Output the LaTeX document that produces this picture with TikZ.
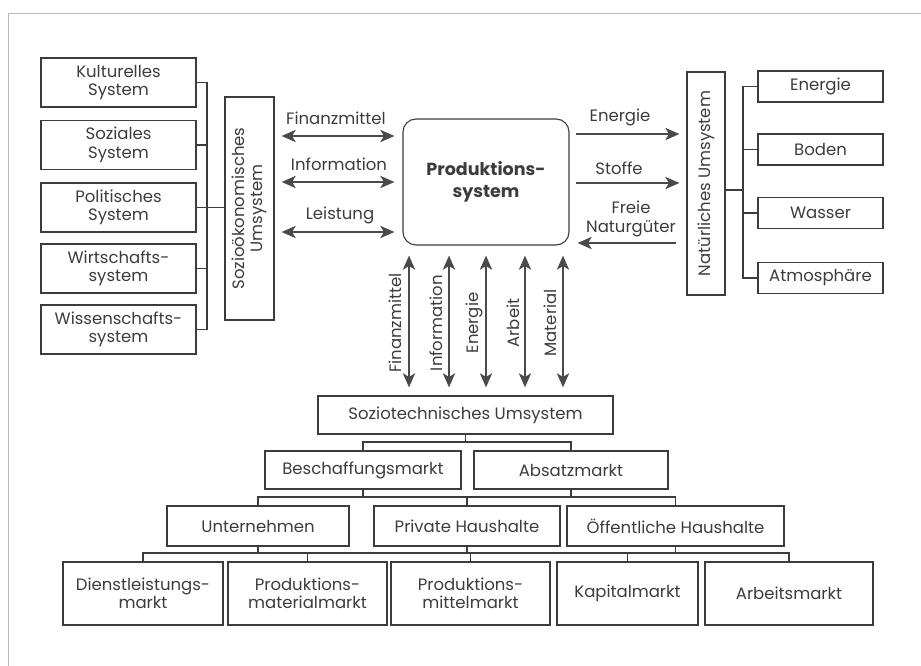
\documentclass[tikz,border=0pt]{standalone}
\usepackage{fontspec}
\setmainfont{Poppins}
\usetikzlibrary{arrows.meta}
\definecolor{ink}{HTML}{3C3C3C}
\definecolor{arrc}{HTML}{4A4A4A}
\tikzset{
  box/.style={draw=ink, line width=1.1pt, inner sep=1pt, align=center, text=ink,
    font=\fontsize{16.5}{18.5}\selectfont},
  lbl/.style={inner sep=0pt, align=center, text=ink, font=\fontsize{16.5}{18.5}\selectfont},
  conn/.style={draw=ink, line width=1.1pt},
  flow/.style={draw=arrc, line width=2.8pt, {Stealth[length=14pt,width=12pt,inset=3.5pt]}-{Stealth[length=14pt,width=12pt,inset=3.5pt]}},
  flowr/.style={draw=arrc, line width=2.8pt, -{Stealth[length=14pt,width=12pt,inset=3.5pt]}},
}
\begin{document}
\begin{tikzpicture}[x=1pt,y=-1pt]
\useasboundingbox (0,0) rectangle (921,666);
% outer frame
\draw[gray!55, line width=0.7pt] (8,666) -- (8,13) -- (921,13);

% left column
\node[box, minimum width=155pt, minimum height=49pt] (kult) at (118.5,82.5) {Kulturelles\\System};
\node[box, minimum width=155pt, minimum height=49pt] (soz) at (118.5,145) {Soziales\\System};
\node[box, minimum width=155pt, minimum height=49pt] (pol) at (118.5,207.5) {Politisches\\System};
\node[box, minimum width=155pt, minimum height=49pt] (wirt) at (118.5,268.5) {Wirtschafts-\\system};
\node[box, minimum width=155pt, minimum height=49pt] (wiss) at (118.5,329.5) {Wissenschafts-\\system};
\node[box, rotate=90, minimum width=223pt, minimum height=49pt] (sozio) at (249.5,208.5) {Sozioökonomisches\\Umsystem};

\coordinate (lb) at (207,207.5);
\draw[conn] (kult.east) -| (lb);
\draw[conn] (soz.east) -| (lb);
\draw[conn] (pol.east) -| (lb);
\draw[conn] (wirt.east) -| (lb);
\draw[conn] (wiss.east) -| (lb);
\draw[conn] (lb) -- (sozio.north |- lb);

% production system
\node[box, draw=ink, rounded corners=13pt, minimum width=166pt, minimum height=126pt,
  font=\fontsize{17.5}{22}\selectfont\bfseries] (prod) at (486,182) {Produktions-\\system};

% left flows
\coordinate (y1) at (0,136);
\coordinate (y2) at (0,182);
\coordinate (y3) at (0,232);
\draw[flow, shorten <=7pt, shorten >=8pt] (sozio.south |- y1) -- (prod.west |- y1);
\draw[flow, shorten <=7pt, shorten >=8pt] (sozio.south |- y2) -- (prod.west |- y2);
\draw[flow, shorten <=7pt, shorten >=8pt] (sozio.south |- y3) -- (prod.west |- y3);
\node[lbl] (lfin) at (336,118) {Finanzmittel};
\node[lbl] (linf) at (339,164.5) {Information};
\node[lbl] (lleis) at (340,215) {Leistung};

% natural system
\node[box, rotate=90, minimum width=223pt, minimum height=38pt] (nat) at (706,183.5) {Natürliches Umsystem};
\node[box, minimum width=125pt, minimum height=31pt] (en) at (820.5,86.5) {Energie};
\node[box, minimum width=125pt, minimum height=31pt] (bod) at (820.5,149.5) {Boden};
\node[box, minimum width=125pt, minimum height=31pt] (was) at (820.5,213) {Wasser};
\node[box, minimum width=125pt, minimum height=31pt] (atm) at (820.5,278) {Atmosphäre};
\coordinate (rb) at (743,190);
\draw[conn] (en.west) -| (rb);
\draw[conn] (bod.west) -| (rb);
\draw[conn] (was.west) -| (rb);
\draw[conn] (atm.west) -| (rb);
\draw[conn] (rb) -- (nat.south |- rb);

% right flows
\coordinate (r1) at (0,134);
\coordinate (r2) at (0,183);
\coordinate (r3) at (0,243);
\draw[flowr, shorten <=6pt, shorten >=7pt] (prod.east |- r1) -- (nat.north |- r1);
\draw[flowr, shorten <=6pt, shorten >=7pt] (prod.east |- r2) -- (nat.north |- r2);
\draw[flowr, shorten <=10pt, shorten >=8pt] (nat.north |- r3) -- (prod.east |- r3);
\node[lbl] (len) at (620,117) {Energie};
\node[lbl] (lsto) at (619,168) {Stoffe};
\node[lbl] (lfrei) at (631,219) {Freie\\Naturgüter};

% sociotechnical system
\node[box, minimum width=295pt, minimum height=38pt] (stz) at (465.5,415) {Soziotechnisches Umsystem};

% vertical flows
\foreach \xx/\nm/\lx/\txt in {409/v1/395/Finanzmittel, 449/v2/436/Information, 486/v3/474/Energie, 525/v4/513/Arbeit, 563/v5/550/Material}{
  \coordinate (\nm) at (\xx,0);
  \draw[flow, shorten <=10pt, shorten >=8pt] (prod.south -| \nm) -- (stz.north -| \nm);
  \node[lbl, rotate=90] (l\nm) at (\lx,323) {\txt};
}

% tree
\node[box, minimum width=196pt, minimum height=38pt] (besch) at (363,470) {Beschaffungsmarkt};
\node[box, minimum width=194pt, minimum height=38pt] (abs) at (571,470) {Absatzmarkt};
\node[box, minimum width=182pt, minimum height=40pt] (unt) at (258,526) {Unternehmen};
\node[box, minimum width=186pt, minimum height=40pt] (priv) at (467,526) {Private Haushalte};
\node[box, minimum width=217pt, minimum height=40pt] (oeff) at (675.5,526) {Öffentliche Haushalte};
\node[box, minimum width=160pt, minimum height=63pt] (dien) at (143,593.5) {Dienstleistungs-\\markt};
\node[box, minimum width=159pt, minimum height=63pt] (pmat) at (307.5,593.5) {Produktions-\\materialmarkt};
\node[box, minimum width=159pt, minimum height=63pt] (pmit) at (470.5,593.5) {Produktions-\\mittelmarkt};
\node[box, minimum width=141pt, minimum height=63pt] (kap) at (627.5,593.5) {Kapitalmarkt};
\node[box, minimum width=168pt, minimum height=63pt] (arb) at (789,593.5) {Arbeitsmarkt};

\coordinate (b1) at (0,442);
\coordinate (b2) at (0,497);
\coordinate (b3) at (0,553);
\draw[conn] (stz.south) -- (stz.south |- b1);
\draw[conn] (besch.north) -- (besch.north |- b1) -- (abs.north |- b1) -- (abs.north);

\draw[conn] (besch.south) -- (besch.south |- b2);
\draw[conn] (abs.south) -- (abs.south |- b2);
\draw[conn] (unt.north) -- (unt.north |- b2) -- (oeff.north |- b2) -- (oeff.north);
\draw[conn] (priv.north) -- (priv.north |- b2);

\draw[conn] (unt.south) -- (unt.south |- b3);
\draw[conn] (priv.south) -- (priv.south |- b3);
\draw[conn] (oeff.south) -- (oeff.south |- b3);
\draw[conn] (dien.north) -- (dien.north |- b3) -- (arb.north |- b3) -- (arb.north);
\draw[conn] (pmat.north) -- (pmat.north |- b3);
\draw[conn] (pmit.north) -- (pmit.north |- b3);
\draw[conn] (kap.north) -- (kap.north |- b3);
\end{tikzpicture}
\end{document}
